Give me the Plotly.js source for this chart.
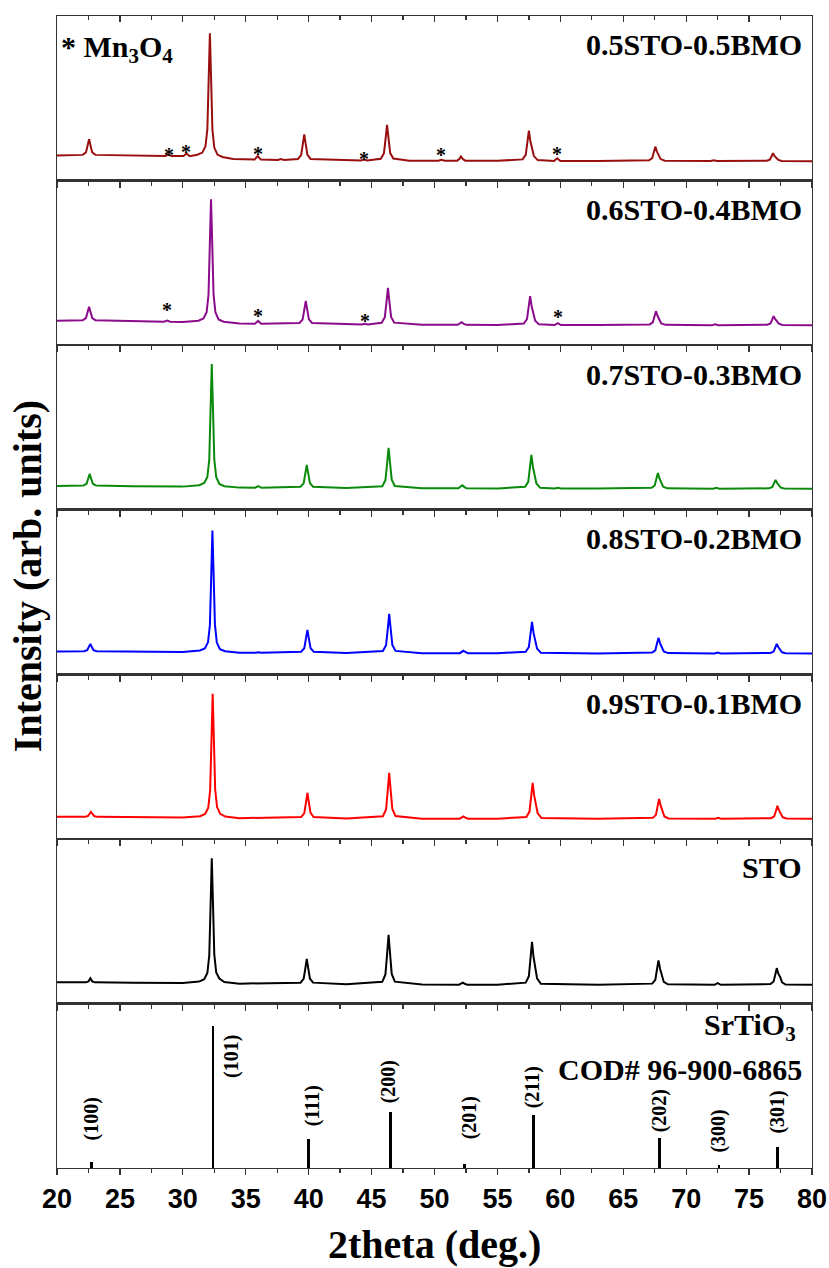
<!DOCTYPE html>
<html><head><meta charset="utf-8">
<script src="https://cdn.plot.ly/plotly-3.0.1.min.js"></script>
<style>html,body{margin:0;padding:0;background:#fff}</style>
</head><body><div id="chart" style="width:829px;height:1268px"></div>
<script>
// ---------------- DATA ----------------
const sampleNames = ['0.5STO-0.5BMO', '0.6STO-0.4BMO', '0.7STO-0.3BMO', '0.8STO-0.2BMO', '0.9STO-0.1BMO', 'STO'];
const sampleColors = ['#990f0f', '#8b0b8b', '#0a8a0a', '#0000ff', '#ff0000', '#000000'];

// [2theta, intensity (arb. units)]
const xrd05 = [[20,25.0],[22.05,25.7],[22.3,28.2],[22.43,34.7],[22.55,41.3],[22.67,34.7],[22.8,28.2],[23.05,25.7],[26,24.8],
  [28.6,24.6],[28.85,25.9],[29.1,24.6],[30.05,24.5],[30.3,27.0],[30.55,24.4],
  [31.15,25.8],[31.55,28.0],[31.8,34.3],[31.95,51.3],[32.05,99.3],[32.15,147.3],[32.25,100.0],[32.35,51.0],[32.5,33.0],[32.75,26.0],[33.15,23.6],[34,21.5],
  [35.7,21.0],[35.95,24.5],[36.2,21.0],[37.55,20.6],[37.8,21.5],[38.05,20.5],
  [39.15,21.6],[39.4,25.5],[39.53,35.9],[39.65,46.3],[39.77,36.2],[39.9,25.7],[40.15,21.6],[43,20.1],
  [44.15,20.0],[44.4,21.0],[44.65,20.0],
  [45.73,21.8],[45.98,27.1],[46.11,41.4],[46.23,55.6],[46.35,42.0],[46.48,27.5],[46.73,22.0],[48,19.9],
  [50.3,19.8],[50.55,20.8],[50.8,19.8],[51.8,19.9],[51.97,21.5],[52.1,24.0],[52.25,21.6],[52.45,19.9],[55,19.7],
  [57.0,21.2],[57.25,25.7],[57.38,37.8],[57.5,49.9],[57.62,39.3],[57.75,31.8],[57.9,24.5],[58.2,20.5],
  [59.5,19.6],[59.75,22.3],[60.0,19.6],[63,19.6],
  [67.05,20.2],[67.3,22.4],[67.42,28.1],[67.55,33.9],[67.68,29.0],[67.82,25.3],[67.97,21.5],[68.3,19.8],
  [71.95,19.5],[72.2,20.3],[72.45,19.5],
  [76.4,19.8],[76.65,21.0],[76.78,24.1],[76.9,27.3],[77.03,24.5],[77.17,22.6],[77.32,20.6],[77.6,19.6],[80,19.4]];
const xrd04 = [[20,24.5],[22.05,25.0],[22.3,27.1],[22.43,32.8],[22.55,38.5],[22.67,32.8],[22.8,27.1],[23.05,25.0],[26,23.8],
  [28.5,23.4],[28.75,24.6],[29.0,23.4],[30,23.2],
  [31.24,24.5],[31.64,26.7],[31.89,32.9],[32.04,50.1],[32.14,97.0],[32.24,145.9],[32.34,99.8],[32.44,50.7],[32.59,32.9],[32.84,25.7],[33.24,23.5],[34.5,21.7],
  [35.73,21.4],[35.98,24.2],[36.23,21.3],
  [39.27,22.2],[39.52,25.6],[39.65,34.9],[39.77,44.2],[39.89,35.2],[40.02,25.8],[40.27,22.2],[43,20.7],
  [44.21,20.6],[44.46,21.4],[44.71,20.6],
  [45.8,22.3],[46.05,27.8],[46.18,42.5],[46.3,57.2],[46.42,43.1],[46.55,28.2],[46.8,22.5],[49,20.4],
  [51.85,20.3],[52.02,21.5],[52.15,23.0],[52.3,21.6],[52.5,20.3],[55,20.2],
  [57.1,21.6],[57.35,26.0],[57.48,37.5],[57.6,49.0],[57.72,38.9],[57.85,31.7],[58.0,24.5],[58.3,20.8],
  [59.55,20.1],[59.8,22.0],[60.05,20.1],[63,20.1],
  [67.1,20.7],[67.35,22.8],[67.47,28.4],[67.6,34.0],[67.73,29.1],[67.87,25.6],[68.02,21.7],[68.35,20.3],
  [72.05,20.0],[72.3,20.8],[72.55,20.0],
  [76.45,20.5],[76.7,21.8],[76.83,25.4],[76.95,29.0],[77.08,25.9],[77.22,23.6],[77.37,21.4],[77.65,20.2],[80,20.0]];
const xrd03 = [[20,23.8],[22.1,24.2],[22.35,26.0],[22.48,30.9],[22.6,35.8],[22.72,30.9],[22.85,26.0],[23.1,24.2],[26,23.4],[30,23.1],
  [31.3,24.5],[31.7,26.7],[31.95,32.8],[32.1,50.1],[32.2,96.8],[32.3,145.8],[32.4,99.5],[32.5,50.3],[32.65,32.8],[32.9,25.7],[33.3,23.5],[34.5,22.1],
  [35.75,22.0],[36.0,23.6],[36.25,21.9],
  [39.35,23.0],[39.6,26.4],[39.73,35.6],[39.85,44.8],[39.97,35.9],[40.1,26.6],[40.35,23.0],[43,21.6],
  [45.85,23.5],[46.1,29.6],[46.23,45.7],[46.35,61.8],[46.47,46.4],[46.6,30.0],[46.85,23.7],[49,21.4],
  [51.9,21.4],[52.07,22.8],[52.2,24.5],[52.35,22.9],[52.55,21.4],[55,21.3],
  [57.2,22.9],[57.45,27.9],[57.58,41.4],[57.7,54.8],[57.82,43.0],[57.95,34.6],[58.1,26.2],[58.4,21.9],
  [59.55,21.2],[59.8,21.9],[60.05,21.2],[63,21.1],
  [67.25,21.9],[67.5,24.2],[67.62,30.5],[67.75,36.8],[67.88,31.3],[68.02,27.4],[68.17,23.0],[68.5,21.4],
  [72.15,21.0],[72.4,21.9],[72.65,21.0],
  [76.6,21.4],[76.85,22.8],[76.98,26.3],[77.1,29.8],[77.23,26.7],[77.37,24.5],[77.52,22.1],[77.8,21.2],[80,21.0]];
const xrd02 = [[20,22.8],[22.15,23.1],[22.4,24.2],[22.53,27.3],[22.65,30.4],[22.77,27.3],[22.9,24.2],[23.15,23.1],[26,22.6],[30,22.4],
  [31.35,23.8],[31.75,25.9],[32.0,32.0],[32.15,49.0],[32.25,95.2],[32.35,143.7],[32.45,98.2],[32.55,49.9],[32.7,31.7],[32.95,25.0],[33.35,23.0],[34.5,21.6],
  [35.75,21.5],[36.0,22.0],[36.25,21.5],
  [39.4,22.6],[39.65,26.0],[39.78,35.2],[39.9,44.4],[40.02,35.5],[40.15,26.2],[40.4,22.6],[43,21.3],
  [45.9,23.2],[46.15,29.0],[46.28,44.7],[46.4,60.4],[46.52,45.3],[46.65,29.4],[46.9,23.4],[49,21.1],
  [52.0,21.1],[52.17,22.2],[52.3,23.5],[52.45,22.3],[52.65,21.1],[55,21.0],
  [57.25,22.6],[57.5,27.3],[57.63,39.8],[57.75,52.4],[57.87,41.4],[58.0,33.6],[58.15,25.7],[58.45,21.6],[63,20.9],
  [67.3,21.7],[67.55,24.0],[67.67,30.2],[67.8,36.4],[67.93,31.0],[68.07,27.1],[68.22,22.8],[68.55,21.2],
  [72.25,20.9],[72.5,21.7],[72.75,20.9],
  [76.7,21.3],[76.95,22.7],[77.08,26.6],[77.2,30.4],[77.33,27.0],[77.47,24.6],[77.62,22.0],[77.9,21.0],[80,20.8]];
const xrd01 = [[20,22.0],[22.2,22.0],[22.45,22.8],[22.58,24.9],[22.7,27.0],[22.82,24.9],[22.95,22.8],[23.2,22.0],[26,21.6],[30,21.3],
  [31.37,22.7],[31.77,24.9],[32.02,31.1],[32.17,48.5],[32.27,95.6],[32.37,145.0],[32.47,98.7],[32.57,49.6],[32.72,31.8],[32.97,25.0],[33.37,22.3],[34.5,20.7],
  [39.4,21.8],[39.65,25.6],[39.78,35.8],[39.9,46.0],[40.02,36.1],[40.15,25.9],[40.4,21.8],[43,20.4],
  [45.9,22.6],[46.15,29.4],[46.28,47.7],[46.4,66.0],[46.52,48.3],[46.65,29.9],[46.9,22.8],[49,20.2],
  [52.0,20.2],[52.17,21.2],[52.3,22.5],[52.45,21.3],[52.65,20.2],[55,20.1],
  [57.3,21.9],[57.55,27.3],[57.68,41.6],[57.8,56.0],[57.92,43.4],[58.05,34.5],[58.2,25.5],[58.5,20.8],[63,20.0],
  [67.35,21.0],[67.6,24.0],[67.72,32.0],[67.85,40.0],[67.98,33.0],[68.12,28.0],[68.27,22.4],[68.6,20.4],
  [72.3,20.0],[72.55,21.0],[72.8,20.0],
  [76.75,20.7],[77.0,22.6],[77.13,27.8],[77.25,33.0],[77.38,28.5],[77.52,25.2],[77.67,21.6],[77.95,20.3],[80,20.0]];
const xrdSTO = [[20,21.3],[22.3,21.1],[22.5,22.0],[22.65,25.3],[22.8,22.1],[23.0,21.1],[26,20.8],[30,20.5],
  [31.3,21.9],[31.7,24.2],[31.95,30.4],[32.1,47.9],[32.2,95.4],[32.3,145.3],[32.4,98.7],[32.5,49.1],[32.65,31.1],[32.9,24.9],[33.3,21.4],[34.5,19.8],
  [39.35,20.8],[39.6,24.5],[39.73,34.5],[39.85,44.6],[39.97,34.8],[40.1,24.7],[40.35,20.8],[43,19.2],
  [45.85,21.6],[46.1,29.0],[46.23,48.8],[46.35,68.6],[46.47,49.5],[46.6,29.5],[46.85,21.8],[49,18.9],
  [51.95,18.8],[52.12,19.6],[52.25,20.8],[52.4,19.7],[52.6,18.8],[55,18.7],
  [57.25,20.8],[57.5,27.3],[57.63,44.4],[57.75,61.6],[57.87,46.6],[58.0,36.2],[58.15,25.0],[58.45,19.6],[63,18.6],
  [67.3,19.8],[67.55,23.5],[67.67,33.2],[67.8,42.9],[67.93,34.5],[68.07,28.3],[68.22,21.5],[68.55,19.1],
  [72.25,18.6],[72.5,20.2],[72.75,18.6],
  [76.7,19.4],[76.95,22.0],[77.08,28.6],[77.2,35.3],[77.33,29.5],[77.47,26.5],[77.62,21.0],[77.9,18.9],[80,18.6]];
const patterns = [xrd05, xrd04, xrd03, xrd02, xrd01, xrdSTO];

// Reference pattern SrTiO3 COD# 96-900-6865
const refHKL = ['(100)', '(101)', '(111)', '(200)', '(201)', '(211)', '(202)', '(300)', '(301)'];
const refPos = [22.76, 32.40, 40.0, 46.5, 52.4, 57.86, 67.9, 72.6, 77.27];
const refInt = [4, 100, 20, 39, 3, 37, 21.4, 1.8, 15];

// Mn3O4 impurity marks (2theta) for the two BMO-rich samples
const mn3o4Marks05 = [28.88, 30.23, 35.95, 44.37, 50.49, 59.7];
const mn3o4Marks04 = [28.73, 35.95, 44.45, 59.78];

// ---------------- LAYOUT CONFIG ----------------
const star05Y = [25.6, 28.6, 26.6, 21.6, 25.6, 26.6];
const star04Y = [35.2, 29.2, 24.2, 28.2];
const hklLabelPos = [[22.76,34.6],[33.86,78.2],[40.32,43.8],[46.36,60.6],[52.8,35.4],[57.8,56.4],[67.9,40.3],[72.6,26.2],[77.3,38.9]];

const N = 7;
const AX = '#333333';
const serif = 'Liberation Serif, Times New Roman, serif';
const sans = 'Liberation Sans, Arial, sans-serif';

const traces = [];
patterns.forEach((p, i) => {
  traces.push({
    type: 'scatter', mode: 'lines',
    x: p.map(d => d[0]), y: p.map(d => d[1]),
    xaxis: 'x' + (i + 1), yaxis: 'y' + (i + 1),
    line: {color: sampleColors[i], width: 2},
    showlegend: false, hoverinfo: 'skip'
  });
});
traces.push({
  type: 'bar', x: refPos, y: refInt, width: 0.2,
  marker: {color: '#000', line: {width: 0}},
  xaxis: 'x7', yaxis: 'y7', showlegend: false, hoverinfo: 'skip'
});
// dummy for top tick axis
traces.push({type: 'scatter', mode: 'lines', x: [20, 80], y: [null, null], xaxis: 'x8', yaxis: 'y1', showlegend: false, hoverinfo: 'skip'});

const layout = {
  width: 829, height: 1268,
  margin: {l: 57, r: 17, t: 16, b: 100},
  paper_bgcolor: '#fff', plot_bgcolor: '#fff',
  bargap: 0,
  annotations: []
};
for (let i = 1; i <= N; i++) {
  const top = 1 - (i - 1) / N, bot = 1 - i / N;
  layout['xaxis' + i] = {
    domain: [0, 1], anchor: 'y' + i, range: [20, 80],
    showline: true, mirror: true, linecolor: AX, linewidth: 1.3,
    ticks: 'outside', ticklen: 6, tickwidth: 1.3, tickcolor: AX,
    tick0: 20, dtick: 5,
    minor: {dtick: 2.5, tick0: 20, ticks: 'outside', ticklen: 4, tickwidth: 1.3, tickcolor: AX},
    showticklabels: i === N,
    tickfont: {family: sans, size: 27, color: '#000', weight: 'bold'},
    showgrid: false, zeroline: false, fixedrange: true
  };
  layout['yaxis' + i] = {
    domain: [bot, top], anchor: 'x' + i,
    range: i === N ? [0, 115.5] : [0, 164.6],
    showline: true, mirror: true, linecolor: AX, linewidth: 1.3,
    ticks: '', showticklabels: false, showgrid: false, zeroline: false, fixedrange: true
  };
}
layout.xaxis8 = {
  overlaying: 'x', anchor: 'y1', side: 'top', range: [20, 80],
  ticks: 'inside', ticklen: 6, tickwidth: 1.3, tickcolor: AX, tick0: 20, dtick: 5,
  minor: {dtick: 2.5, tick0: 20, ticks: 'inside', ticklen: 4, tickwidth: 1.3, tickcolor: AX},
  showticklabels: false, showline: false, showgrid: false, zeroline: false
};

// panel labels
sampleNames.forEach((name, i) => {
  layout.annotations.push({
    text: name, xref: 'paper', yref: 'y' + (i + 1) + ' domain',
    x: 0.989, y: 1 - 29 / 164.6, xanchor: 'right', yanchor: 'middle', showarrow: false,
    font: {family: serif, size: 30, color: '#000', weight: 'bold'}
  });
});
layout.annotations.push({
  text: 'SrTiO<sub>3</sub>', xref: 'paper', yref: 'y7 domain',
  x: 0.982, y: 1 - 24 / 164.6, xanchor: 'right', yanchor: 'middle', showarrow: false,
  font: {family: serif, size: 30, color: '#000', weight: 'bold'}
});
layout.annotations.push({
  text: 'COD# 96-900-6865', xref: 'paper', yref: 'y7 domain',
  x: 0.989, y: 1 - 66 / 164.6, xanchor: 'right', yanchor: 'middle', showarrow: false,
  font: {family: serif, size: 30, color: '#000', weight: 'bold'}
});
layout.annotations.push({
  text: '* Mn<sub>3</sub>O<sub>4</sub>', xref: 'paper', yref: 'y1 domain',
  x: 0.002, y: 1 - 33 / 164.6, xanchor: 'left', yanchor: 'middle', showarrow: false,
  font: {family: serif, size: 30, color: '#000', weight: 'bold'}
});
// impurity stars
mn3o4Marks05.forEach((x, k) => layout.annotations.push({
  text: '*', x: x, y: star05Y[k], xref: 'x1', yref: 'y1', showarrow: false,
  xanchor: 'center', yanchor: 'middle', font: {family: serif, size: 20, color: '#000', weight: 'bold'}
}));
mn3o4Marks04.forEach((x, k) => layout.annotations.push({
  text: '*', x: x, y: star04Y[k], xref: 'x2', yref: 'y2', showarrow: false,
  xanchor: 'center', yanchor: 'middle', font: {family: serif, size: 20, color: '#000', weight: 'bold'}
}));
// hkl labels
refHKL.forEach((t, k) => layout.annotations.push({
  text: t, x: hklLabelPos[k][0], y: hklLabelPos[k][1], xref: 'x7', yref: 'y7',
  textangle: -90, showarrow: false, xanchor: 'center', yanchor: 'middle',
  font: {family: serif, size: 20, color: '#000', weight: 'bold'}
}));
// axis titles
layout.annotations.push({
  text: 'Intensity (arb. units)', xref: 'paper', yref: 'paper',
  x: -0.038, y: 0.514, textangle: -90, showarrow: false, xanchor: 'center', yanchor: 'middle',
  font: {family: serif, size: 40, color: '#000', weight: 'bold'}
});
layout.annotations.push({
  text: '2theta (deg.)', xref: 'paper', yref: 'paper',
  x: 0.5, y: -0.066, showarrow: false, xanchor: 'center', yanchor: 'middle',
  font: {family: serif, size: 40, color: '#000', weight: 'bold'}
});

Plotly.newPlot('chart', traces, layout, {staticPlot: true, displayModeBar: false});
</script>
</body></html>
